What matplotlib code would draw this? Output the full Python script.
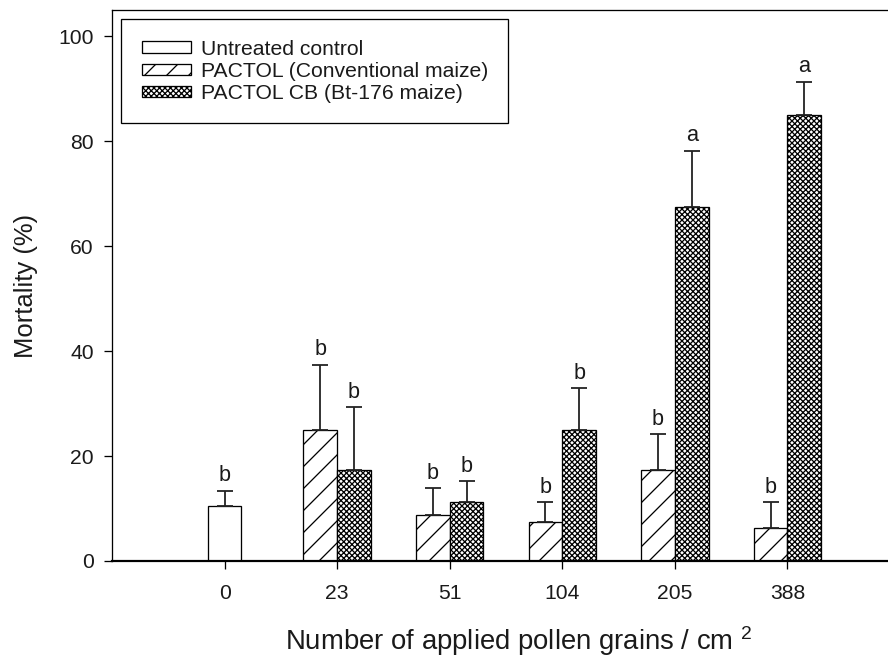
import numpy as np
import matplotlib
matplotlib.use("Agg")
import matplotlib.pyplot as plt

# ---------------- data ----------------
categories = ['0', '23', '51', '104', '205', '388']

control_doses = ['0']
control_mean = [10.5]
control_err = [2.9]
control_letters = ['b']

treated_doses = ['23', '51', '104', '205', '388']
pactol_mean = [25.0, 8.7, 7.5, 17.4, 6.2]
pactol_err = [12.4, 5.2, 3.7, 6.8, 5.0]
pactol_letters = ['b', 'b', 'b', 'b', 'b']

cb_mean = [17.4, 11.3, 25.0, 67.4, 84.9]
cb_err = [11.9, 3.9, 7.9, 10.8, 6.4]
cb_letters = ['b', 'b', 'b', 'a', 'a']

series_labels = ['Untreated control', 'PACTOL (Conventional maize)',
                 'PACTOL CB (Bt-176 maize)']
y_ticks = [0, 20, 40, 60, 80, 100]

# ---------------- style ----------------
DPI = 132
PX = 72.0 / DPI  # points per pixel
plt.rcParams['font.family'] = ['Liberation Sans', 'DejaVu Sans']
plt.rcParams['mathtext.fontset'] = 'custom'
plt.rcParams['mathtext.rm'] = 'Liberation Sans'
plt.rcParams['mathtext.it'] = 'Liberation Sans:italic'
plt.rcParams['mathtext.bf'] = 'Liberation Sans:bold'
plt.rcParams['hatch.linewidth'] = 0.7
plt.rcParams['hatch.color'] = 'black'

txt_color = '#1a1a1a'
fs_tick = 11.5
fs_ylabel = 14
fs_xlabel = 15
fs_letter = 11.8

fig = plt.figure(figsize=(888 / DPI, 657 / DPI), dpi=DPI)
ax = fig.add_axes([112 / 888, 96 / 657, 788 / 888, 551 / 657])

pos = {c: i for i, c in enumerate(categories)}
width = 0.30

x_ctrl = np.array([pos[c] for c in control_doses], dtype=float)
x_trt = np.array([pos[c] for c in treated_doses], dtype=float)

err_kw = dict(ecolor='#222222', elinewidth=1.0 * PX * 1.8, capsize=8.3 * PX,
              capthick=1.0 * PX * 1.8)
edge_lw = 1.3 * PX

b0 = ax.bar(x_ctrl, control_mean, width, color='white', edgecolor='black',
            linewidth=edge_lw, label=series_labels[0],
            yerr=[np.zeros(len(control_mean)), control_err], error_kw=err_kw,
            zorder=2)
b1 = ax.bar(x_trt - width / 2, pactol_mean, width, color='white',
            edgecolor='black', hatch='//', linewidth=edge_lw,
            label=series_labels[1],
            yerr=[np.zeros(len(pactol_mean)), pactol_err], error_kw=err_kw,
            zorder=2)
b2 = ax.bar(x_trt + width / 2, cb_mean, width, color='white',
            edgecolor='black', hatch='xxxxxxxx', linewidth=edge_lw,
            label=series_labels[2],
            yerr=[np.zeros(len(cb_mean)), cb_err], error_kw=err_kw,
            zorder=2)

def put_letters(xs, means, errs, letters):
    for x, m, e, l in zip(xs, means, errs, letters):
        ax.annotate(l, xy=(x, m + e), xytext=(0, 9.5 * PX),
                    textcoords='offset points', ha='center', va='baseline',
                    fontsize=fs_letter, color=txt_color)

put_letters(x_ctrl, control_mean, control_err, control_letters)
put_letters(x_trt - width / 2, pactol_mean, pactol_err, pactol_letters)
put_letters(x_trt + width / 2, cb_mean, cb_err, cb_letters)

ax.set_xlim(-1, len(categories))
ax.set_ylim(0, 105)
ax.set_xticks(range(len(categories)))
ax.set_xticklabels(categories)
ax.set_yticks(y_ticks)

ax.tick_params(axis='both', direction='out', length=8.5 * PX, width=1.3 * PX,
               colors='black', labelsize=fs_tick, labelcolor=txt_color)
ax.tick_params(axis='x', pad=14.5 * PX)
ax.tick_params(axis='y', pad=9.5 * PX)

for s in ['left', 'top', 'right']:
    ax.spines[s].set_linewidth(1.3 * PX)
ax.spines['bottom'].set_linewidth(2.2 * PX)
ax.spines['bottom'].set_zorder(3)

ax.set_ylabel('Mortality (%)', fontsize=fs_ylabel, color=txt_color)
ax.yaxis.set_label_coords(-0.094, 0.5)
ax.set_xlabel('Number of applied pollen grains / cm $^{2}$',
              fontsize=fs_xlabel, color=txt_color, va='baseline')
ax.xaxis.set_label_coords(0.516, -0.162)

leg = ax.legend(handles=[b0, b1, b2], loc='upper left', fontsize=fs_tick,
                frameon=True, fancybox=False, edgecolor='black',
                framealpha=1, borderaxespad=0.45, borderpad=0.95,
                handlelength=2.35, handleheight=0.45, handletextpad=0.45,
                labelspacing=0.16)
leg.get_frame().set_linewidth(1.3 * PX)
for t in leg.get_texts():
    t.set_color(txt_color)

fig.savefig('out.png', dpi=DPI)
